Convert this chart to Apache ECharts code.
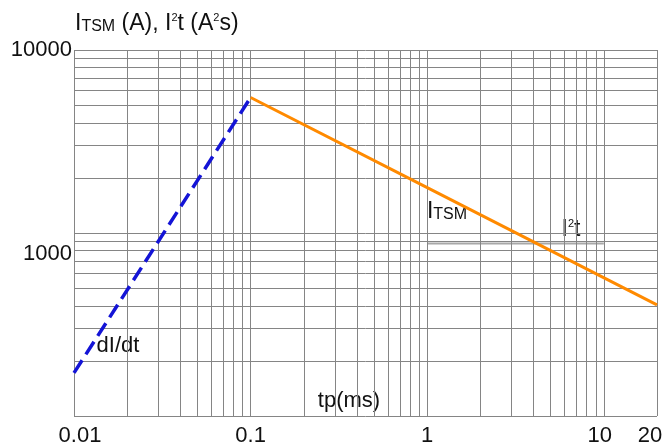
<!DOCTYPE html>
<html><head><meta charset="utf-8">
<script src="https://cdn.jsdelivr.net/npm/echarts@6/dist/echarts.min.js"></script>
<style>html,body{margin:0;padding:0;background:#fff}#c{width:669px;height:448px}</style>
</head><body><div id="c"></div>
<script>
// ---- data ----
const xTickLabels = ['0.01', '0.1', '1', '10', '20'];
const yTickLabels = ['1000', '10000'];
const xGrid = [0.01,0.02,0.03,0.04,0.05,0.06,0.07,0.08,0.09,
               0.1,0.2,0.3,0.4,0.5,0.6,0.7,0.8,0.9,
               1,2,3,4,5,6,7,8,9,10,20];
const yGrid = [100,200,300,400,500,600,700,800,900,
               1000,2000,3000,4000,5000,6000,7000,8000,9000,10000];
const dIdtX = [0.01, 0.1];
const dIdtY = [172, 5500];
const itsmX = [0.1, 1, 20];
const itsmY = [5500, 1770, 405];
const markerX = [1, 10];
const markerY = [875, 875];

const FONT = "'Liberation Sans', Arial, sans-serif";
const zip = (a, b) => a.map((v, i) => [v, b[i]]);
const fmt = v => String(+(+v).toPrecision(6));

const chart = echarts.init(document.getElementById('c'), null, {renderer: 'canvas'});
chart.setOption({
  animation: false,
  backgroundColor: '#fff',
  grid: {left: 74, right: 12, top: 50, bottom: 32, containLabel: false},
  xAxis: {
    type: 'log', logBase: 10, min: 0.01, max: 20,
    axisLine: {show: false}, axisTick: {show: false}, splitLine: {show: false},
    axisLabel: {
      margin: 9, color: '#111', fontFamily: FONT, fontSize: 22,
      showMinLabel: true, showMaxLabel: true,
      formatter: v => {
        const s = fmt(v);
        if (!xTickLabels.includes(s)) return '';
        if (s === '0.01') return '{a|' + s + '}';
        if (s === '20') return '{b|' + s + '}';
        if (s === '10') return '{c|' + s + '}';
        return '{n|' + s + '}';
      },
      rich: {
        n: {fontSize: 22, fontFamily: FONT, color: '#111'},
        a: {fontSize: 22, fontFamily: FONT, color: '#111', padding: [0, 0, 0, 12]},
        b: {fontSize: 22, fontFamily: FONT, color: '#111', padding: [0, 14, 0, 0]},
        c: {fontSize: 22, fontFamily: FONT, color: '#111', padding: [0, 8, 0, 0]}
      }
    }
  },
  yAxis: {
    type: 'log', logBase: 10, min: 100, max: 10000,
    axisLine: {show: false}, axisTick: {show: false}, splitLine: {show: false},
    axisLabel: {
      margin: 2, color: '#111', fontFamily: FONT, fontSize: 22,
      showMinLabel: true, showMaxLabel: true,
      formatter: v => {
        const s = fmt(v);
        if (!yTickLabels.includes(s)) return '';
        if (s === '1000') return '{d|' + s + '}';
        return '{n|' + s + '}';
      },
      rich: {
        n: {fontSize: 22, fontFamily: FONT, color: '#111'},
        d: {fontSize: 22, fontFamily: FONT, color: '#111', padding: [42, 0, 0, 0]}
      }
    }
  },
  series: [
    {
      type: 'line', z: 1, silent: true, data: [], symbol: 'none',
      markLine: {
        silent: true, symbol: ['none', 'none'], animation: false,
        label: {show: false},
        lineStyle: {color: '#858585', width: 1, type: 'solid'},
        emphasis: {disabled: true},
        data: xGrid.map(v => ({xAxis: v})).concat(yGrid.map(v => ({yAxis: v})))
      }
    },
    {
      type: 'line', z: 4, silent: true, symbol: 'none',
      data: zip(markerX, markerY),
      lineStyle: {color: '#a8a8a8', width: 2}
    },
    {
      type: 'line', z: 5, silent: true, symbol: 'none',
      data: zip(dIdtX, dIdtY),
      lineStyle: {color: '#1414d6', width: 3.5, type: [15, 7], cap: 'butt'}
    },
    {
      type: 'line', z: 5, silent: true, symbol: 'none',
      data: zip(itsmX, itsmY),
      lineStyle: {color: '#ff8a00', width: 3}
    }
  ],
  graphic: [
    {
      type: 'text', x: 75, y: 24, z: 3,
      style: {
        text: '{b|I}{s|TSM}{b| (A), I}{p|2}{b|t (A}{p|2}{b|s)}',
        verticalAlign: 'middle', align: 'left',
        rich: {
          b: {fontSize: 23, fontFamily: FONT, fill: '#111', verticalAlign: 'bottom'},
          s: {fontSize: 16, fontFamily: FONT, fill: '#111', verticalAlign: 'bottom', padding: [0, 0, 1, 0]},
          p: {fontSize: 11, fontFamily: FONT, fill: '#111', verticalAlign: 'top'}
        }
      }
    },
    {
      type: 'text', x: 349, y: 401, z: 3,
      style: {
        text: 'tp(ms)', font: '22px ' + FONT, fill: '#111',
        align: 'center', verticalAlign: 'middle',
        backgroundColor: '#fff', padding: [12, 3, 14, 3]
      }
    },
    {
      type: 'text', x: 118, y: 346, z: 3,
      style: {
        text: 'dI/dt', font: '22px ' + FONT, fill: '#111',
        align: 'center', verticalAlign: 'middle',
        backgroundColor: '#fff', padding: [4, 4, 2, 4]
      }
    },
    {
      type: 'text', x: 447, y: 212, z: 3,
      style: {
        text: '{b|I}{s|TSM}',
        align: 'center', verticalAlign: 'middle',
        rich: {
          b: {fontSize: 23, fontFamily: FONT, fill: '#111', verticalAlign: 'bottom'},
          s: {fontSize: 16, fontFamily: FONT, fill: '#111', verticalAlign: 'bottom', padding: [0, 0, 1, 0]}
        }
      }
    },
    {
      type: 'rect', z: 2, shape: {x: 560, y: 219, width: 23, height: 22},
      style: {fill: '#fff'}
    },
    {
      type: 'text', x: 571, y: 230, z: 3,
      style: {
        text: '{b|I}{p|2}{b|t}',
        align: 'center', verticalAlign: 'middle',
        rich: {
          b: {fontSize: 23, fontFamily: FONT, fill: '#111', verticalAlign: 'bottom'},
          p: {fontSize: 11, fontFamily: FONT, fill: '#111', verticalAlign: 'top'}
        }
      }
    }
  ]
});
</script>
</body></html>
